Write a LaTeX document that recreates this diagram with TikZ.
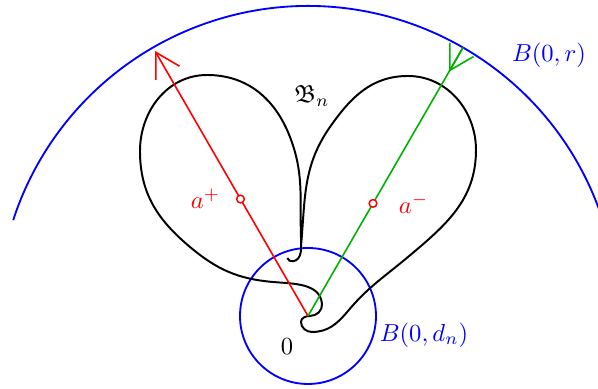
\documentclass[tikz,border=0pt]{standalone}
\usepackage{amsmath,amssymb}
\usetikzlibrary{arrows.meta,positioning}

\begin{document}
\begin{tikzpicture}[
    x=0.0143cm,y=0.0143cm,
    ball/.style={draw=blue,line width=0.75pt},
    ray/.style={line width=0.65pt},
    barb/.style={-{Straight Barb[length=3.4mm,width=3.9mm]}},
    smallring/.style={circle,draw=red,fill=white,line width=0.6pt,inner sep=0pt,minimum size=1.1mm}
  ]
    \useasboundingbox (-308,-73) rectangle (290,316);
    \coordinate (O) at (0,0);
    \coordinate (P) at (120:306);
    \coordinate (Q) at (60:310);
    \coordinate (Qt) at (60:282);
    % the two balls
    \draw[ball] (O) circle[radius=68];
    \draw[ball] (18.5:310) arc[start angle=18.5,end angle=162,radius=310];
    % the set B_n
    \draw[line width=0.8pt] (-20.7,58) to[out=-70,in=-170] (-15,54.7) to[out=10,in=-88] (-7,78)
      to[out=92,in=-69] (-18,179) to[out=111,in=0] (-101,241)
      to[out=180,in=90] (-168,165) to[out=-90,in=140] (-118,69)
      to[out=-40,in=175] (-35,34) to[out=-5,in=95] (14,12)
      to[out=-85,in=0] (2,0) to[out=180,in=90] (-7,-6)
      to[out=-90,in=180] (4,-16) to[out=0,in=-130] (40,5)
      to[out=50,in=-140] (100,59) to[out=40,in=-90] (168,166)
      to[out=90,in=0] (100,240) to[out=180,in=55] (22,189)
      to[out=-125,in=85] (-6.8,72);
    % rays
    \draw[ray,red,barb] (O) -- (P);
    \draw[ray,green!70!black] (O) -- (Q);
    \draw[ray,green!70!black,barb] (Q) -- (Qt);
    \node[smallring] (ap) at (120:135) {};
    \node[smallring] (am) at (60:130) {};
    \node[red,left=1mm of ap] (aplus) {$a^+$};
    \node[red,right=1.8mm of am] (aminus) {$a^-$};
    \node (zero) at (-21,-31) {$0$};
    \node[blue] (Bd) at (116,-19) {$B(0,d_n)$};
    \node[blue] (Br) at (241,261) {$B(0,r)$};
    \node (Bn) at (4,220) {$\mathfrak{B}_n$};
\end{tikzpicture}
\end{document}
